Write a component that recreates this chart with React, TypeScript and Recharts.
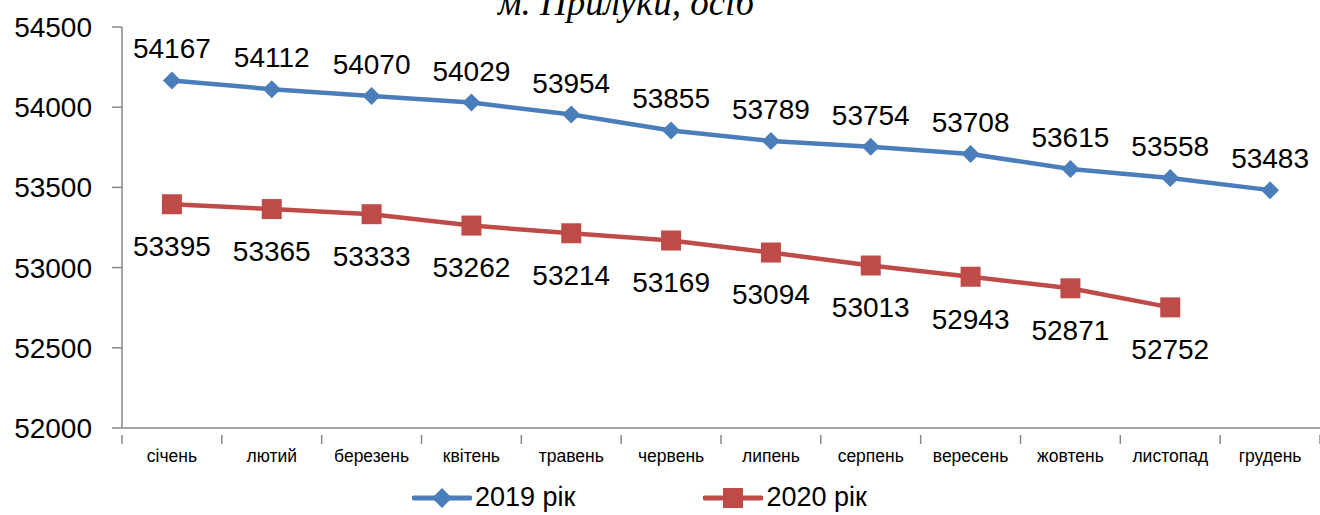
import { LineChart, Line, XAxis, YAxis, LabelList } from 'recharts';

const months = ['січень', 'лютий', 'березень', 'квітень', 'травень', 'червень', 'липень', 'серпень', 'вересень', 'жовтень', 'листопад', 'грудень'];
const pop2019 = [54167, 54112, 54070, 54029, 53954, 53855, 53789, 53754, 53708, 53615, 53558, 53483];
const pop2020 = [53395, 53365, 53333, 53262, 53214, 53169, 53094, 53013, 52943, 52871, 52752, null];
const yTicks = [52000, 52500, 53000, 53500, 54000, 54500];

const BLUE = '#4a7ebb';
const RED = '#be4b48';
const FONT = '"Liberation Sans", Arial, sans-serif';

const data = months.map((m, i) => ({ month: m, y2019: pop2019[i], y2020: pop2020[i] }));

const Diamond = ({ cx, cy, fill }: any) => {
  if (cx == null || cy == null) return null;
  const r = 9;
  return <path d={`M${cx},${cy - r}L${cx + r},${cy}L${cx},${cy + r}L${cx - r},${cy}Z`} fill={fill} />;
};

const Square = ({ cx, cy, fill }: any) => {
  if (cx == null || cy == null) return null;
  const r = 10;
  return <rect x={cx - r} y={cy - r} width={2 * r} height={2 * r} fill={fill} />;
};

const MonthTick = ({ x, y, payload, index }: any) => {
  const half = 1198 / 12 / 2;
  return (
    <g>
      <line x1={x - half} y1={y - 1} x2={x - half} y2={y + 8} stroke="#888" strokeWidth={1.5} />
      {index === months.length - 1 && (
        <line x1={x + half} y1={y - 1} x2={x + half} y2={y + 8} stroke="#888" strokeWidth={1.5} />
      )}
      <text x={x} y={y + 26} textAnchor="middle" fontSize={17.5} fontFamily={FONT} fill="#000">
        {payload.value}
      </text>
    </g>
  );
};

const LegendItem = ({ color, label, square }: { color: string; label: string; square?: boolean }) => (
  <div style={{ display: 'flex', alignItems: 'center' }}>
    <svg width={60} height={24}>
      <line x1={2} y1={12} x2={58} y2={12} stroke={color} strokeWidth={5} strokeLinecap="round" />
      {square ? (
        <rect x={20} y={2} width={20} height={20} fill={color} />
      ) : (
        <path d="M30,2L40,12L30,22L20,12Z" fill={color} />
      )}
    </svg>
    <span style={{ fontSize: 27, fontFamily: FONT, marginLeft: 3 }}>{label}</span>
  </div>
);

export default function App() {
  return (
    <div style={{ position: 'absolute', left: 0, top: 0, width: 1320, height: 515, background: '#fff', overflow: 'hidden' }}>
      <div
        style={{
          position: 'absolute',
          left: 0,
          width: 1252,
          top: -16,
          textAlign: 'center',
          fontFamily: '"Liberation Serif", "Times New Roman", serif',
          fontStyle: 'italic',
          fontSize: 37,
          lineHeight: '37px',
        }}
      >
        м. Прилуки, осіб
      </div>
      <LineChart width={1320} height={515} data={data} margin={{ top: 27, right: 0, left: 0, bottom: 47 }}>
        <XAxis
          dataKey="month"
          scale="band"
          tick={<MonthTick />}
          tickLine={false}
          axisLine={{ stroke: '#888', strokeWidth: 1.5 }}
          height={40}
          interval={0}
        />
        <YAxis
          domain={[52000, 54500]}
          ticks={yTicks}
          width={122}
          tickSize={10}
          tickMargin={20}
          tick={{ fontSize: 28, fontFamily: FONT, fill: '#000' }}
          axisLine={{ stroke: '#888', strokeWidth: 1.5 }}
          tickLine={{ stroke: '#888', strokeWidth: 1.5 }}
        />
        <Line
          dataKey="y2019"
          stroke={BLUE}
          strokeWidth={4.5}
          dot={<Diamond fill={BLUE} />}
          activeDot={false}
          isAnimationActive={false}
        >
          <LabelList dataKey="y2019" position="top" offset={22} style={{ fontSize: 28, fontFamily: FONT, fill: '#000' }} />
        </Line>
        <Line
          dataKey="y2020"
          stroke={RED}
          strokeWidth={4.5}
          dot={<Square fill={RED} />}
          activeDot={false}
          isAnimationActive={false}
        >
          <LabelList dataKey="y2020" position="bottom" offset={32} style={{ fontSize: 28, fontFamily: FONT, fill: '#000' }} />
        </Line>
      </LineChart>
      <div style={{ position: 'absolute', top: 482, left: 412, display: 'flex', gap: 128 }}>
        <LegendItem color={BLUE} label="2019 рік" />
        <LegendItem color={RED} label="2020 рік" square />
      </div>
    </div>
  );
}
